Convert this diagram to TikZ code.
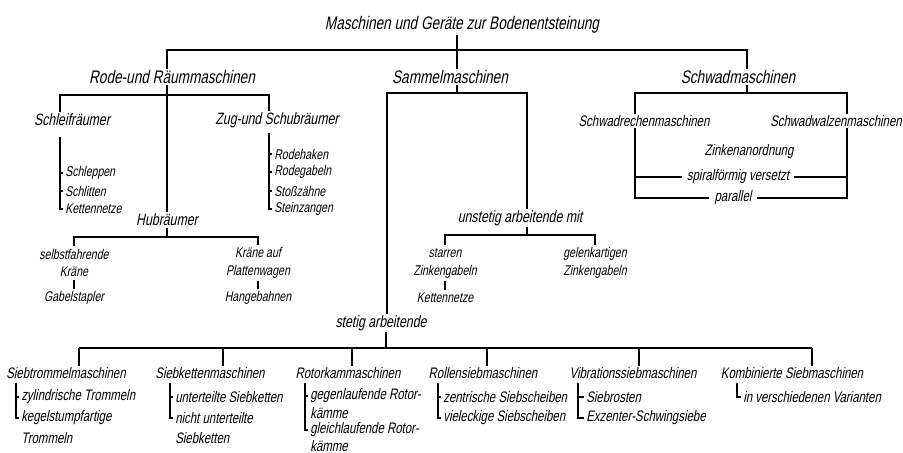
\documentclass[tikz,border=0pt]{standalone}
\usepackage{fontspec}
\newfontfamily\lettering{Liberation Sans}[FakeStretch=0.75,FakeSlant=0.2]

\tikzset{
	toplbl/.style={font=\lettering\fontsize{15.5}{18}\selectfont, inner sep=1pt},
	midlbl/.style={font=\lettering\fontsize{14}{17}\selectfont, inner sep=1pt},
	grplbl/.style={font=\lettering\fontsize{13}{16}\selectfont, inner sep=1pt},
	leaf/.style={font=\lettering\fontsize{12}{15.3}\selectfont, inner sep=2pt, align=center},
	entry/.style={font=\lettering\fontsize{12}{14}\selectfont, inner xsep=1.5pt, inner ysep=1pt, anchor=west},
	lowentry/.style={entry, font=\lettering\fontsize{13}{15}\selectfont}
}

\begin{document}
\begin{tikzpicture}[x=0.03cm, y=-0.03cm, line width=0.9pt]
		\useasboundingbox	(0, 0) rectangle (903, 453);

		\node[toplbl] (title)	at (462, 25) {Maschinen und Geräte zur Bodenentsteinung};
		\node[toplbl] (rode)	at (172, 77) {Rode-und Räummaschinen};
		\node[toplbl] (sammel)	at (450, 77) {Sammelmaschinen};
		\node[toplbl] (schwad)	at (738, 77) {Schwadmaschinen};

		\draw	(title.south -| 457, 0) to (457, 50);
		\draw	(rode.north -| 167, 0) -- (167, 50) -- (747, 50) -- (schwad.north -| 747, 0);
		\draw	(457, 50) to (sammel.north -| 457, 0);

		\node[midlbl] (schleif)	at (72, 120) {Schleifräumer};
		\node[midlbl] (zug)		at (277, 120) {Zug-und Schubräumer};
		\node[midlbl] (hub)		at (167, 220) {Hubräumer};

		\draw	(rode.south -| 167, 0) to (hub.north -| 167, 0);
		\draw	(schleif.north -| 60, 0) -- (60, 95) -- (269, 95) -- (zug.north -| 269, 0);

		\coordinate (sl) at (60, 137);
		\node[entry] (schleppen)	at (63, 173) {Schleppen};
		\node[entry] (schlitten)	at (63, 191) {Schlitten};
		\node[entry] (ketten)		at (63, 209) {Kettennetze};

		\coordinate (zl) at (269, 133);
		\node[entry] (haken)		at (272, 154) {Rodehaken};
		\node[entry] (gabeln)		at (272, 172) {Rodegabeln};
		\node[entry] (zaehne)		at (272, 191) {Stoßzähne};
		\node[entry] (zangen)		at (272, 209) {Steinzangen};

		\foreach \c/\n in {sl/schleppen, sl/schlitten, sl/ketten, zl/haken, zl/gabeln, zl/zaehne, zl/zangen}
			\draw (\c) |- (\n.west);

		\node[leaf] (selbst)	at (74, 263) {selbstfahrende\\Kräne};
		\node[leaf] (wagen)		at (258, 263) {Kräne auf\\Plattenwagen};
		\node[leaf] (stapler)	at (74, 298) {Gabelstapler};
		\node[leaf] (bahnen)	at (258, 298) {Hangebahnen};

		\draw	(hub.south) to (hub.south |- 0, 237);
		\draw	(selbst.north) |- (wagen.north |- 0, 237) -- (wagen.north);
		\draw	(selbst.south) to (stapler.north);
		\draw	(wagen.south) to (bahnen.north);

		\node[midlbl] (unstetig)	at (520, 218) {unstetig arbeitende mit};
		\node[midlbl] (stetig)		at (381, 323) {stetig arbeitende};

		\draw	(sammel.south -| 457, 0) to (457, 93);
		\draw	(stetig.north -| 387, 0) -- (387, 93) -- (527, 93) -- (unstetig.north -| 527, 0);

		\node[leaf] (starr)		at (445, 263) {starren\\Zinkengabeln};
		\node[leaf] (gelenk)	at (595, 263) {gelenkartigen\\Zinkengabeln};
		\node[leaf] (netze)		at (445, 298) {Kettennetze};

		\draw	(unstetig.south -| 527, 0) to (527, 235);
		\draw	(starr.north) |- (gelenk.north |- 0, 235) -- (gelenk.north);
		\draw	(starr.south) to (netze.north);

		\node[grplbl] (trommel)		at (66, 373) {Siebtrommelmaschinen};
		\node[grplbl] (siebkette)	at (210, 373) {Siebkettenmaschinen};
		\node[grplbl] (rotor)		at (348, 373) {Rotorkammaschinen};
		\node[grplbl] (rollen)		at (483, 373) {Rollensiebmaschinen};
		\node[grplbl] (vibro)		at (633, 373) {Vibrationssiebmaschinen};
		\node[grplbl] (kombi)		at (792, 373) {Kombinierte Siebmaschinen};

		\draw	(stetig.south -| 386, 0) to (386, 348);
		\draw	(79, 348) to (812, 348);
		\foreach \n/\x in {trommel/79, siebkette/223, rotor/352, rollen/487, vibro/639, kombi/812}
			\draw (\x, 348) to (\n.north -| \x, 0);

		\coordinate (tl) at (16, 383);
		\node[lowentry] (zyl)		at (19, 397) {zylindrische Trommeln};
		\node[lowentry] (kegel)		at (19, 418) {kegelstumpfartige};
		\node[lowentry] (kegelb)	at (19, 438) {Trommeln};

		\coordinate (kl) at (170, 383);
		\node[lowentry] (unter)		at (173, 397) {unterteilte Siebketten};
		\node[lowentry] (nicht)		at (173, 418) {nicht unterteilte};
		\node[lowentry] (nichtb)	at (173, 438) {Siebketten};

		\coordinate (rl) at (305, 383);
		\node[lowentry] (gegen)		at (308, 396) {gegenlaufende Rotor-};
		\node[lowentry] (gegenb)	at (308, 413) {kämme};
		\node[lowentry] (gleich)	at (308, 430) {gleichlaufende Rotor-};
		\node[lowentry] (gleichb)	at (308, 446) {kämme};

		\coordinate (ol) at (438, 383);
		\node[lowentry] (zentr)		at (441, 397) {zentrische Siebscheiben};
		\node[lowentry] (vieleck)	at (441, 418) {vieleckige Siebscheiben};

		\coordinate (vl) at (578, 383);
		\node[lowentry] (roste)		at (584, 397) {Siebrosten};
		\node[lowentry] (exz)		at (584, 418) {Exzenter-Schwingsiebe};

		\coordinate (bl) at (737, 383);
		\node[lowentry] (variant)	at (741, 397) {in verschiedenen Varianten};

		\foreach \c/\n in {tl/zyl, tl/kegel, kl/unter, kl/nicht, rl/gegen, rl/gleich, ol/zentr, ol/vieleck, vl/roste, vl/exz, bl/variant}
			\draw (\c) |- (\n.west);

		\node[grplbl] (rechen)	at (644, 121) {Schwadrechenmaschinen};
		\node[grplbl] (walzen)	at (836, 121) {Schwadwalzenmaschinen};

		\draw	(schwad.south -| 747, 0) to (747, 93);
		\draw	(rechen.north -| 635, 0) -- (635, 93) -- (847, 93) -- (walzen.north -| 847, 0);

		\node[grplbl] (zinken)					at (749, 152) {Zinkenanordnung};
		\node[grplbl, inner xsep=4pt] (spiral)		at (738, 177) {spiralförmig versetzt};
		\node[grplbl, inner xsep=4pt] (parallel)	at (733, 198) {parallel};

		\draw	(rechen.south -| 635, 0) |- (parallel.west);
		\draw	(walzen.south -| 847, 0) |- (parallel.east);
		\draw	(spiral.west) to (spiral.west -| 635, 0);
		\draw	(spiral.east) to (spiral.east -| 847, 0);
	\end{tikzpicture}
\end{document}
